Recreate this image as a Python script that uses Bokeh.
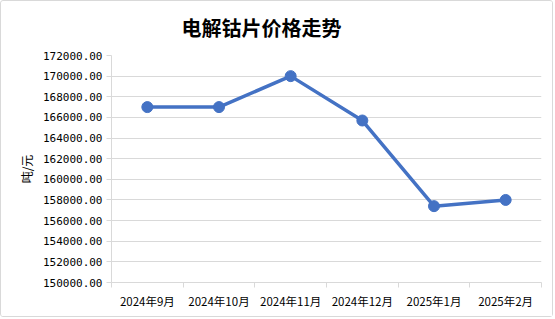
from bokeh.plotting import figure
from bokeh.models import (Range1d, FixedTicker, NumeralTickFormatter, ColumnDataSource)
from bokeh.embed import file_html
from bokeh.resources import INLINE

categories = ["2024年9月", "2024年10月", "2024年11月", "2024年12月", "2025年1月", "2025年2月"]
prices = [167000, 167000, 170000, 165700, 157400, 158000]
y_ticks = list(range(150000, 172001, 2000))
title_text = "电解钴片价格走势"
y_label = "吨/元"

xs = list(range(len(categories)))
src = ColumnDataSource(dict(x=xs, y=prices))

p = figure(width=553, height=317, output_backend="svg", toolbar_location=None,
           x_range=Range1d(-0.5, len(categories) - 0.5),
           y_range=Range1d(y_ticks[0], y_ticks[-1]),
           min_border_left=110, min_border_right=13, min_border_top=53, min_border_bottom=36)
p.styles = {"border": "1px solid #D9D9D9", "border-radius": "3px"}

p.title.text = title_text
p.title.align = "left"
p.title.offset = 70
p.title.standoff = 23
p.title.vertical_align = "top"
p.title.text_font = "Noto Sans CJK SC"
p.title.text_font_size = "20px"
p.title.text_font_style = "bold"
p.title.text_color = "#000000"

p.outline_line_color = None
p.background_fill_color = "white"
p.border_fill_color = "white"

grid = "#D9D9D9"
p.xgrid.grid_line_color = None
p.ygrid.grid_line_color = grid
p.ygrid.grid_line_width = 1

# y axis
ya = p.yaxis[0]
ya.ticker = FixedTicker(ticks=y_ticks)
ya.formatter = NumeralTickFormatter(format="0.00")
ya.axis_line_color = grid
ya.major_tick_line_color = grid
ya.major_tick_out = 5
ya.major_tick_in = 0
ya.minor_tick_line_color = None
ya.major_label_standoff = 4
ya.major_label_text_font = "'DejaVu Sans Mono', monospace"
ya.major_label_text_font_size = "11px"
ya.major_label_text_color = "#000000"
ya.axis_label = y_label
ya.axis_label_text_font = "Noto Sans CJK SC"
ya.axis_label_text_font_size = "12px"
ya.axis_label_text_font_style = "normal"
ya.axis_label_text_color = "#000000"
ya.axis_label_standoff = 5

# x axis
xa = p.xaxis[0]
xa.ticker = FixedTicker(ticks=xs, minor_ticks=[i - 0.5 for i in range(len(categories) + 1)])
xa.major_label_overrides = {i: c for i, c in zip(xs, categories)}
xa.axis_line_color = grid
xa.major_tick_line_color = None
xa.major_tick_out = 0
xa.major_tick_in = 0
xa.minor_tick_line_color = grid
xa.minor_tick_out = 5
xa.minor_tick_in = 0
xa.major_label_standoff = 5
xa.major_label_text_font = "Noto Sans CJK SC"
xa.major_label_text_font_size = "11.5px"
xa.major_label_text_color = "#000000"

p.line("x", "y", source=src, line_color="#4472C4", line_width=3.5)
p.scatter("x", "y", source=src, size=11, fill_color="#4472C4", line_color="#4472C4")

open("out.html", "w").write(file_html(p, INLINE))
